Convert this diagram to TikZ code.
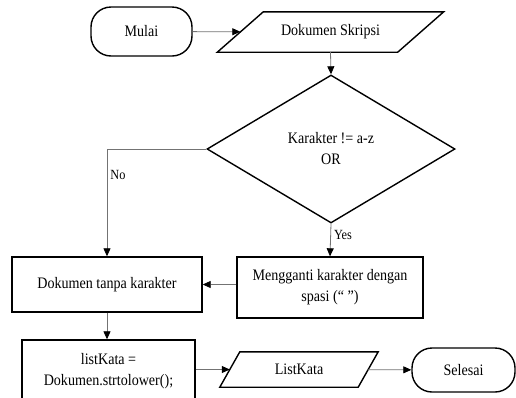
\documentclass[tikz,border=0pt]{standalone}
\usepackage{fontspec}
\setmainfont{Liberation Serif}[FakeStretch=0.88]
\usepackage{tikz}
\usetikzlibrary{arrows.meta, shapes.geometric, positioning}

\begin{document}
\begin{tikzpicture}[
  x=1pt, y=-1pt,
  font=\fontsize{16}{21}\selectfont,
  >={Triangle[length=8pt, width=7pt, color=black]},
  box/.style={draw=black, line width=1.4pt, align=center, inner sep=0pt},
  term/.style={box, rounded corners=20pt},
  io/.style={align=center, inner sep=0pt},
  ioline/.style={draw=black, line width=1.4pt},
  proc/.style={box, rectangle},
  dec/.style={box, diamond},
  arr/.style={->, line width=0.8pt, draw=black!55},
  lbl/.style={font=\fontsize{14}{16}\selectfont, inner sep=3pt},
]
\useasboundingbox (0,0) rectangle (516,397);

% ============ NODES ============

\node[term, minimum width=101pt, minimum height=49pt] (mulai) at (141.5,31.5) {Mulai};
\node[io, minimum width=180pt, minimum height=40pt] (dok) at (330.5,32) {Dokumen Skripsi};

% Decision
\node[dec, minimum width=248pt, minimum height=148pt] (cek) at (331,149)
  {Karakter != a-z\\OR};

% Middle row
\node[proc, minimum width=190pt, minimum height=55pt] (tanpa) at (107,284.5)
  {Dokumen tanpa karakter};
\node[proc, minimum width=186pt, minimum height=61pt] (ganti) at (330,287.5)
  {Mengganti karakter dengan\\spasi (“ ”)};

% Bottom row
\node[proc, minimum width=173pt, minimum height=62pt] (lower) at (108.5,371)
  {listKata =\\Dokumen.strtolower();};
\node[io, minimum width=138pt, minimum height=35pt] (list) at (299,369.5) {ListKata};
\node[term, minimum width=103pt, minimum height=44pt] (selesai) at (463.5,370) {Selesai};

% parallelogram outlines
\draw[ioline] ([xshift=23pt]dok.north west) -- ([xshift=23pt]dok.north east)
  -- ([xshift=-23pt]dok.south east) -- ([xshift=-23pt]dok.south west) -- cycle;
\draw[ioline] ([xshift=10pt]list.north west) -- ([xshift=10pt]list.north east)
  -- ([xshift=-10pt]list.south east) -- ([xshift=-10pt]list.south west) -- cycle;

% ============ ARROWS ============

\draw[arr] (mulai) -- (dok);
\draw[arr] (dok.south) -- (cek.north);
\draw[arr] (cek.west) -| node[lbl, pos=0.62, right] {No} (tanpa.north);
\draw[arr] (cek.south) -- node[lbl, pos=0.35, right] {Yes} (ganti.north);
\draw[arr] (ganti.west |- tanpa.east) -- (tanpa.east);
\draw[arr] (tanpa.south) -- (tanpa.south |- lower.north);
\draw[arr] (lower.east |- list) -- (list);
\draw[arr] (list) -- (selesai);

\end{tikzpicture}
\end{document}
